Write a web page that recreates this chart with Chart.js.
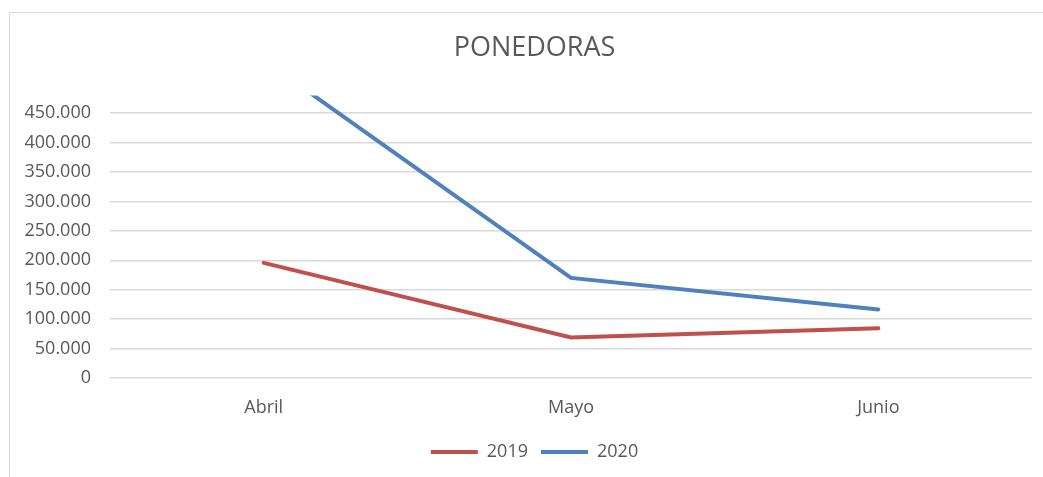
<!DOCTYPE html>
<html>
<head>
<meta charset="utf-8">
<script src="https://cdn.jsdelivr.net/npm/chart.js@4/dist/chart.umd.min.js"></script>
<style>
  html, body { margin: 0; padding: 0; background: #fff; overflow: hidden; }
  #frame {
    position: absolute; left: 9px; top: 12px;
    width: 1100px; height: 520px;
    border: 1px solid #d9d9d9;
  }
  #wrap { position: absolute; left: 0; top: 0; width: 1069px; height: 477px; }
</style>
</head>
<body>
<div id="frame"></div>
<div id="wrap"><canvas id="chart"></canvas></div>
<script>
// ---- Data ----
const months = ['Abril', 'Mayo', 'Junio'];
const ventas2019 = [195500, 69000, 84500];
const ventas2020 = [540000, 170000, 116500];
const yTicks = [0, 50000, 100000, 150000, 200000, 250000, 300000, 350000, 400000, 450000];
const yMax = 480000;

const FONT = 'Open Sans';
const TEXT = '#595959';

// 450000 -> "450.000"
const fmt = v => String(v).replace(/\B(?=(\d{3})+(?!\d))/g, '.');

const ctx = document.getElementById('chart').getContext('2d');
new Chart(ctx, {
  type: 'line',
  data: {
    labels: months,
    datasets: [
      {
        label: '2019',
        data: ventas2019,
        borderColor: '#c0504d',
        backgroundColor: '#c0504d',
        borderWidth: 4,
        borderCapStyle: 'round',
        pointRadius: 0,
        tension: 0,
      },
      {
        label: '2020',
        data: ventas2020,
        borderColor: '#4f81bd',
        backgroundColor: '#4f81bd',
        borderWidth: 4,
        borderCapStyle: 'round',
        pointRadius: 0,
        tension: 0,
      },
    ],
  },
  options: {
    responsive: true,
    maintainAspectRatio: false,
    animation: false,
    layout: { padding: { left: 0, right: 0, top: 0, bottom: 6 } },
    plugins: {
      title: {
        display: true,
        text: 'PONEDORAS',
        color: TEXT,
        font: { family: FONT, size: 27, weight: 'normal' },
        padding: { top: 32, bottom: 31 },
      },
      legend: {
        display: true,
        position: 'bottom',
        labels: {
          color: TEXT,
          font: { family: FONT, size: 18 },
          usePointStyle: true,
          pointStyle: 'line',
          pointStyleWidth: 47,
          boxHeight: 4,
          padding: 13,
        },
      },
      tooltip: { enabled: false },
    },
    scales: {
      x: {
        offset: true,
        grid: { display: false },
        border: { display: false },
        ticks: {
          color: TEXT,
          font: { family: FONT, size: 18 },
          padding: 11,
        },
        afterFit: (scale) => { scale.height = 52; },
      },
      y: {
        min: 0,
        max: yMax,
        grid: { color: '#d9d9d9', lineWidth: 1.5, drawTicks: false },
        border: { display: false },
        ticks: {
          color: TEXT,
          font: { family: FONT, size: 18 },
          padding: 19,
          callback: (v) => fmt(v),
        },
        afterBuildTicks: (scale) => {
          scale.ticks = yTicks.map(v => ({ value: v }));
        },
        afterFit: (scale) => { scale.width = 110; },
      },
      // empty spacer on the right so the title/legend center like the original
      spacer: {
        type: 'linear',
        position: 'right',
        display: true,
        grid: { display: false },
        border: { display: false },
        ticks: { display: false },
        afterFit: (scale) => { scale.width = 37; },
      },
    },
  },
});
</script>
</body>
</html>
